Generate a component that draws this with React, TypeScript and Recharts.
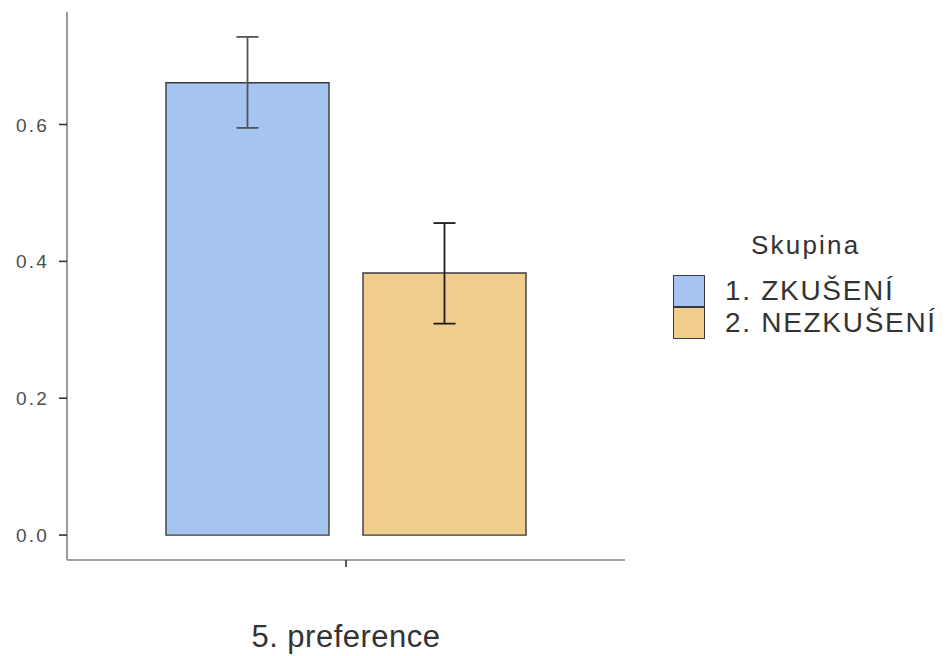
import { BarChart, Bar, XAxis, YAxis, ErrorBar } from 'recharts';

// group means with 95% CI bounds
const categories = ['5. preference'];
const groups = ['1. ZKUŠENÍ', '2. NEZKUŠENÍ'];
const means = [0.661, 0.383];
const lower = [0.595, 0.309];
const upper = [0.728, 0.456];
const yTicks = [0.0, 0.2, 0.4, 0.6];

const fills = ['#A6C4F0', '#F0CD8C'];
const errColors = ['#555555', '#1a1a1a'];

const data = categories.map((cat) => {
  const row: Record<string, any> = { cat };
  groups.forEach((g, i) => {
    row[`g${i}`] = means[i];
    row[`e${i}`] = [means[i] - lower[i], upper[i] - means[i]];
  });
  return row;
});

const FONT = '"Liberation Sans", Arial, Helvetica, sans-serif';

const YTick = (props: any) => {
  const { y, payload } = props;
  return (
    <text x={49} y={y} dy={7} textAnchor="end" fill="#4d4d4d" fontSize={19} letterSpacing={2.2} fontFamily={FONT}>
      {payload.value.toFixed(1)}
    </text>
  );
};

const XTick = (props: any) => {
  const { x, payload } = props;
  return (
    <text x={x} y={647} textAnchor="middle" fill="#333" fontSize={31} letterSpacing={0.5} fontFamily={FONT}>
      {payload.value}
    </text>
  );
};

export default function App() {
  return (
    <div style={{ position: 'absolute', left: 0, top: 0, width: 947, height: 656, background: '#fff', fontFamily: FONT }}>
      <BarChart
        width={947}
        height={656}
        data={data}
        margin={{ top: 12, right: 322, bottom: 0, left: 0 }}
        barSize={163}
        barGap={34}
      >
        <XAxis
          dataKey="cat"
          height={96}
          stroke="#808080"
          strokeWidth={1.6}
          tickSize={7}
          tickLine={{ stroke: '#333', strokeWidth: 1.6 }}
          tick={<XTick />}
        />
        <YAxis
          width={67}
          domain={[-0.0364, 0.7644]}
          ticks={yTicks}
          allowDataOverflow
          stroke="#808080"
          strokeWidth={1.6}
          tickSize={8}
          tickLine={{ stroke: '#333', strokeWidth: 1.6 }}
          tick={<YTick />}
        />
        {groups.map((g, i) => (
          <Bar
            key={g}
            dataKey={`g${i}`}
            name={g}
            fill={fills[i]}
            stroke="#3a3a3a"
            strokeWidth={1.4}
            isAnimationActive={false}
          >
            <ErrorBar
              dataKey={`e${i}`}
              width={11}
              stroke={errColors[i]}
              strokeWidth={1.8}
              isAnimationActive={false}
            />
          </Bar>
        ))}
      </BarChart>
      <div style={{ position: 'absolute', left: 673, top: 228 }}>
        <div style={{ marginLeft: 78, marginBottom: 13, fontSize: 26, letterSpacing: 2.2, color: '#333', lineHeight: '34px' }}>
          Skupina
        </div>
        {groups.map((g, i) => (
          <div key={g} style={{ display: 'flex', alignItems: 'center', height: 32 }}>
            <div
              style={{
                width: 30,
                height: 30,
                background: fills[i],
                border: '1.5px solid #3a3a3a',
                boxSizing: 'content-box',
              }}
            />
            <span style={{ marginLeft: 20, fontSize: 28, letterSpacing: 1.7, color: '#333', lineHeight: '32px' }}>{g}</span>
          </div>
        ))}
      </div>
    </div>
  );
}
